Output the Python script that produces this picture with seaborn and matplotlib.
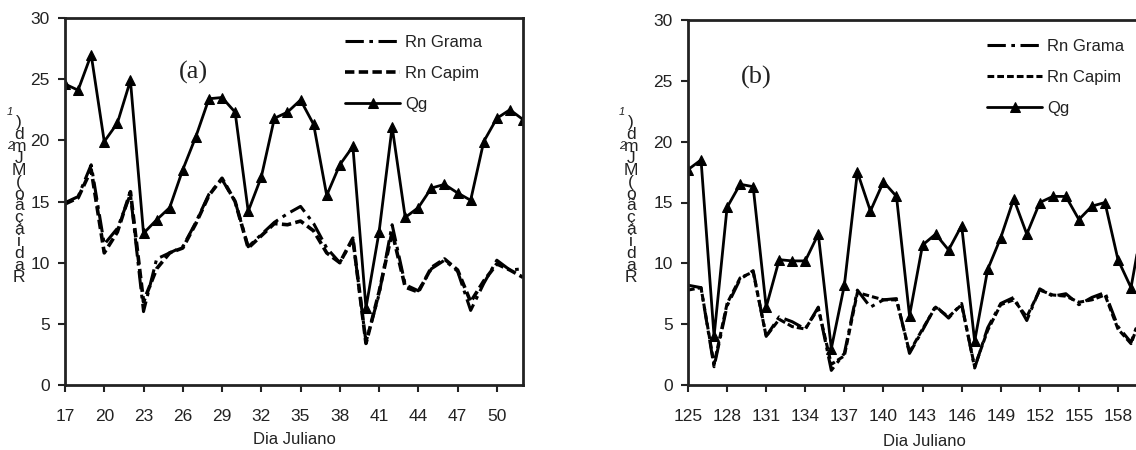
import matplotlib
matplotlib.use("Agg")
import matplotlib.pyplot as plt
import seaborn as sns
import pandas as pd

# ---------------- data ----------------
days_a = list(range(17, 53))
qg_a = [24.6, 24.1, 27.0, 19.9, 21.4, 24.9, 12.4, 13.5, 14.5, 17.6, 20.3, 23.4,
        23.5, 22.3, 14.2, 17.0, 21.8, 22.3, 23.3, 21.3, 15.5, 18.0, 19.5, 6.3,
        12.5, 21.1, 13.7, 14.5, 16.1, 16.4, 15.7, 15.1, 19.9, 21.8, 22.5, 21.7]
grama_a = [14.9, 15.4, 18.0, 11.5, 12.8, 15.6, 6.0, 10.3, 10.8, 11.3, 13.3, 15.6,
           16.8, 15.0, 11.3, 12.3, 13.3, 14.0, 14.6, 13.2, 11.2, 10.0, 11.9, 3.5,
           7.4, 13.1, 8.2, 7.7, 9.5, 10.2, 9.3, 6.1, 8.3, 10.2, 9.4, 9.5]
capim_a = [14.8, 15.3, 17.6, 10.8, 12.5, 15.8, 6.8, 9.5, 10.8, 11.2, 13.2, 15.5,
           16.9, 15.0, 11.2, 12.2, 13.2, 13.1, 13.4, 12.6, 10.8, 10.0, 12.0, 3.4,
           7.6, 12.5, 8.0, 7.6, 9.6, 10.3, 9.4, 6.8, 8.5, 9.9, 9.4, 8.8]

days_b = list(range(125, 161))
qg_b = [17.7, 18.5, 4.0, 14.6, 16.5, 16.3, 6.4, 10.3, 10.2, 10.2, 12.4, 3.0,
        8.2, 17.5, 14.3, 16.7, 15.5, 5.7, 11.5, 12.4, 11.1, 13.1, 3.6, 9.5,
        12.1, 15.3, 12.4, 15.0, 15.5, 15.5, 13.6, 14.7, 15.0, 10.3, 8.0, 14.0]
grama_b = [8.2, 8.0, 1.5, 6.5, 8.7, 9.4, 4.0, 5.6, 5.2, 4.6, 6.4, 1.2,
           2.6, 7.8, 6.4, 7.0, 7.1, 2.6, 4.5, 6.5, 5.5, 6.7, 1.4, 4.7,
           6.7, 7.2, 5.3, 7.9, 7.3, 7.5, 6.6, 7.2, 7.6, 4.8, 3.5, 6.5]
capim_b = [7.8, 8.0, 1.7, 6.7, 8.8, 9.3, 4.0, 5.4, 4.8, 4.6, 6.3, 1.7,
           2.4, 7.6, 7.3, 7.0, 7.0, 2.7, 4.6, 6.4, 5.6, 6.6, 1.5, 4.5,
           6.6, 7.0, 5.6, 7.8, 7.4, 7.3, 6.8, 7.0, 7.4, 4.6, 3.4, 6.3]

xticks_a = list(range(17, 51, 3))
xticks_b = list(range(125, 159, 3))
yticks = [0, 5, 10, 15, 20, 25, 30]
series_names = ["Rn Grama", "Rn Capim", "Qg"]
panel_labels = ["(a)", "(b)"]
xlabel = "Dia Juliano"
ylabel_chars = ["R", "a", "d", "i", "a", "ç", "ã", "o", "(", "M", "J", "m", "d", ")"]

# ---------------- style ----------------
sns.set_theme(style="white")
plt.rcParams["font.family"] = ["Liberation Sans", "DejaVu Sans"]
TXT = "#222222"

fig = plt.figure(figsize=(11.36, 4.5), dpi=100)
W, H = 1136, 450
ax_a = fig.add_axes([65 / W, 1 - 385 / H, 458 / W, 367 / H])
ax_b = fig.add_axes([688 / W, 1 - 385 / H, 36 * 13.03 / W, 365 / H])


def draw(ax, days, grama, capim, qg, xticks, xlim, capim_style, capim_lw,
         panel, leg_anchor, lab_xy):
    df = pd.DataFrame({"dia": days, "grama": grama, "capim": capim, "qg": qg})
    sns.lineplot(data=df, x="dia", y="grama", ax=ax, color="black", lw=2.2,
                 linestyle=(0, (6, 1.8, 1.2, 1.8)), label=series_names[0])
    sns.lineplot(data=df, x="dia", y="capim", ax=ax, color="black", lw=capim_lw,
                 linestyle=capim_style, label=series_names[1])
    sns.lineplot(data=df, x="dia", y="qg", ax=ax, color="black", lw=2.0,
                 marker="^", markersize=7.5, markeredgecolor="black",
                 label=series_names[2])
    ax.set_xlim(*xlim)
    ax.set_ylim(0, 30)
    ax.set_xticks(xticks)
    ax.set_yticks(yticks)
    ax.tick_params(axis="both", which="major", direction="out", length=5,
                   width=1.5, color="#222222", labelsize=12.5, labelcolor=TXT,
                   bottom=True, left=True, pad=6)
    ax.tick_params(axis="x", pad=12)
    for s in ax.spines.values():
        s.set_color("#222222")
        s.set_linewidth(2.0)
    ax.set_xlabel("")
    ax.set_ylabel("")
    ax.grid(False)
    leg = ax.legend(loc="upper left", bbox_to_anchor=leg_anchor,
                    bbox_transform=fig.transFigure, frameon=False,
                    handlelength=3.3, handletextpad=0.3, labelspacing=0.95,
                    fontsize=12, borderaxespad=0, borderpad=0)
    for t in leg.get_texts():
        t.set_color(TXT)
    fig.text(lab_xy[0], lab_xy[1], panel, fontsize=19,
             family=["Liberation Serif", "DejaVu Serif"], color=TXT,
             ha="center", va="center", transform=fig.transFigure)


draw(ax_a, days_a, grama_a, capim_a, qg_a, xticks_a, (17, 52.0),
     (0, (2.6, 1.2)), 2.6, panel_labels[0], (345 / W, 1 - 35 / H),
     (193 / W, 1 - 72 / H))
draw(ax_b, days_b, grama_b, capim_b, qg_b, xticks_b, (125, 161),
     (0, (2.2, 1.0)), 2.2, panel_labels[1], (987 / W, 1 - 39 / H),
     (756 / W, 1 - 77 / H))

# x labels
fig.text(294 / W, 1 - 440 / H, xlabel, fontsize=12, color=TXT,
         ha="center", va="center")
fig.text(924 / W, 1 - 442 / H, xlabel, fontsize=12, color=TXT,
         ha="center", va="center")

# stacked (unrotated) y labels, as in the source
for x0 in (19, 631):
    fig.text(x0 / W, 1 - 200 / H, "\n".join(reversed(ylabel_chars)),
             fontsize=12.5, color=TXT, ha="center", va="center",
             linespacing=0.74, multialignment="center")
    fig.text((x0 - 9) / W, 1 - 112 / H, "1", fontsize=8, style="italic",
             color=TXT, ha="center", va="center")
    fig.text((x0 - 9) / W, 1 - 146 / H, "2", fontsize=8, style="italic",
             color=TXT, ha="center", va="center")

fig.savefig("out.png", dpi=100, facecolor="white")
